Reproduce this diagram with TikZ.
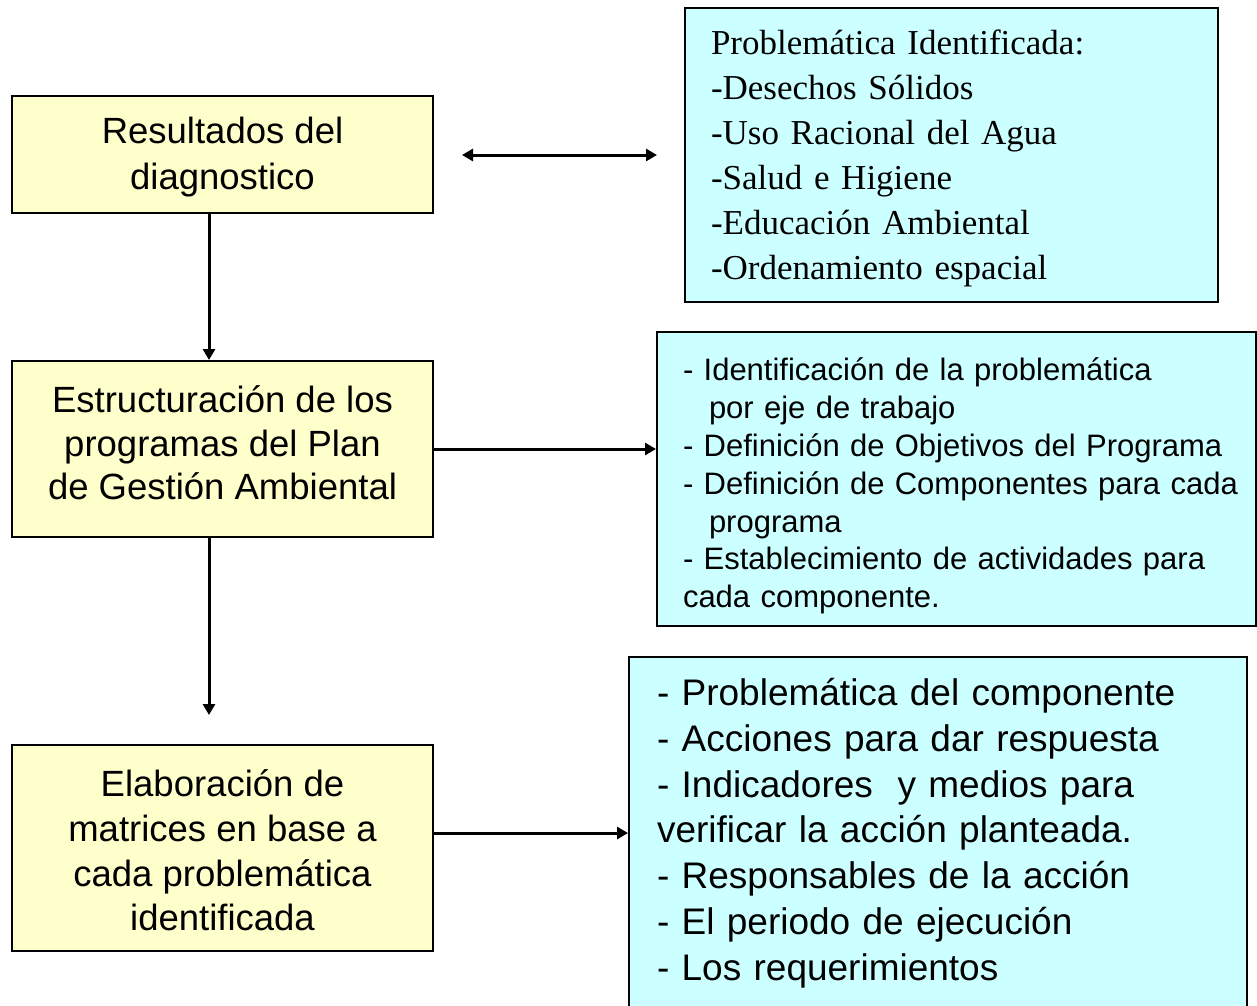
\documentclass[tikz,border=0pt]{standalone}
\usepackage{fontspec}
\setmainfont{Liberation Sans}
\newfontfamily\timesfont{Liberation Serif}
\usetikzlibrary{arrows.meta}
\definecolor{yellowfill}{HTML}{FFFFCC}
\definecolor{cyanfill}{HTML}{CCFFFF}
% first-line height / last-line depth struts for vertical placement
\newcommand{\topstrut}[1]{\rule{0pt}{#1pt}}
\newcommand{\botstrut}[1]{\rule[-#1pt]{0pt}{0pt}}
\begin{document}
\begin{tikzpicture}[x=1pt,y=-1pt,
  ybox/.style={draw=black, line width=2pt, fill=yellowfill, align=center, inner sep=0pt,
    minimum width=421pt, font=\fontsize{36.5}{45}\selectfont},
  cbox/.style={draw=black, line width=2pt, fill=cyanfill, align=left, inner sep=0pt},
  conn/.style={line width=3pt, -{Triangle[length=11pt,width=12pt]}},
  dconn/.style={line width=3pt, {Triangle[length=11pt,width=12pt]}-{Triangle[length=11pt,width=12pt]}},
]
\useasboundingbox (0,0) rectangle (1257,1005);
\clip (0,0) rectangle (1257,1005);

% left yellow boxes
\node[ybox, minimum height=117pt, font=\fontsize{36.5}{46}\selectfont] (r1) at (222.5,154.5)
  {\topstrut{42.2}Resultados del\\diagnostico\botstrut{17.8}};
\node[ybox, minimum height=176pt, font=\fontsize{36.5}{43.5}\selectfont] (r2) at (222.5,449)
  {\topstrut{37.2}Estructuración de los\\programas del Plan\\de Gestión Ambiental\botstrut{22.8}};
\node[ybox, minimum height=206pt, font=\fontsize{36.5}{44.7}\selectfont] (r3) at (222.5,848)
  {\topstrut{45.75}Elaboración de\\matrices en base a\\cada problemática\\identificada\botstrut{14.25}};

% right cyan boxes
\node[cbox, minimum width=533pt, minimum height=294pt, text width=481pt,
      font=\timesfont\fontsize{35}{45}\selectfont] (cA) at (951.5,155)
  {\topstrut{42.2}Problemática Identificada:\\
   -Desechos Sólidos\\
   -Uso Racional del Agua\\
   -Salud e Higiene\\
   -Educación Ambiental\\
   -Ordenamiento espacial\botstrut{17.8}};

\node[cbox, minimum width=599pt, minimum height=294pt, text width=547pt,
      font=\fontsize{31}{37.8}\selectfont] (cB) at (956.5,479)
  {\topstrut{45.3}\mbox{- Identificación de la problemática}\\
   \hspace*{26pt}por eje de trabajo\\
   \mbox{- Definición de Objetivos del Programa}\\
   \mbox{- Definición de Componentes para cada}\\
   \hspace*{26pt}programa\\
   \mbox{- Establecimiento de actividades para}\\
   cada componente.\botstrut{14.7}};

\node[cbox, minimum width=618pt, minimum height=351pt, text width=562pt,
      font=\fontsize{37}{45.7}\selectfont] (cC) at (938,832.5)
  {\topstrut{40.4}- Problemática del componente\\
   - Acciones para dar respuesta\\
   - Indicadores \ y medios para\\
   verificar la acción planteada.\\
   - Responsables de la acción\\
   - El periodo de ejecución\\
   - Los requerimientos\botstrut{19.6}};

% connectors
\coordinate (vx) at (209,0);
\coordinate (e2) at (209,715);
\coordinate (h3) at (0,833);
\coordinate (d1) at (462,155);
\coordinate (d2) at (657,155);

\draw[conn] (r1.south -| vx) -- (r2.north -| vx);
\draw[conn] (r2.south -| vx) -- (e2);
\draw[conn] (r2.east) -- (r2.east -| cB.west);
\draw[conn] (r3.east |- h3) -- (cC.west |- h3);
\draw[dconn] (d1) -- (d2);
\end{tikzpicture}
\end{document}
